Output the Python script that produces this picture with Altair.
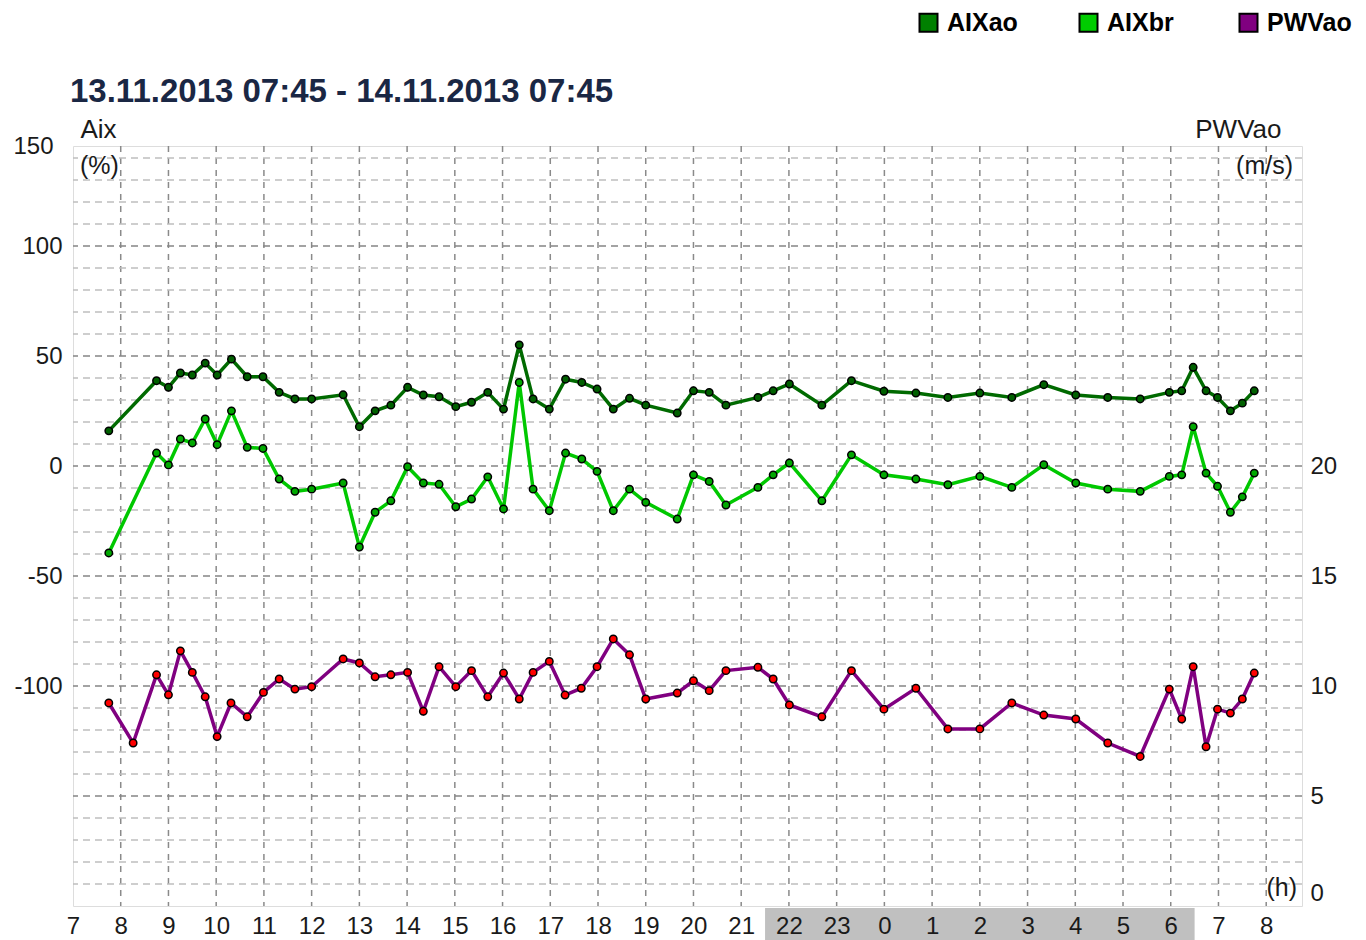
import altair as alt
import pandas as pd

TITLE = "13.11.2013 07:45 - 14.11.2013 07:45"

# time in hours since 13.11 00:00 (values > 24 are on 14.11)
aix_hours = [7.75, 8.75, 9.0, 9.25, 9.5, 9.77, 10.02, 10.32, 10.65, 10.98,
             11.32, 11.65, 12.0, 12.66, 13.0, 13.33, 13.66, 14.01, 14.34, 14.67,
             15.02, 15.35, 15.69, 16.02, 16.35, 16.64, 16.98, 17.32, 17.66, 17.98,
             18.32, 18.66, 19.0, 19.66, 20.0, 20.33, 20.68, 21.35, 21.67, 22.01,
             22.69, 23.31, 23.99, 24.66, 25.33, 26.0, 26.67, 27.34, 28.01, 28.68,
             29.36, 29.97, 30.23, 30.47, 30.74, 30.98, 31.25, 31.5, 31.75]
aixao = [16.0, 38.8, 35.8, 42.3, 41.4, 46.8, 41.4, 48.6, 40.6, 40.6,
         33.5, 30.5, 30.5, 32.4, 17.9, 25.1, 27.7, 35.8, 32.3, 31.5,
         27.0, 29.0, 33.5, 25.9, 55.1, 30.5, 25.9, 39.5, 38.0, 35.0,
         25.9, 30.8, 27.7, 24.1, 34.2, 33.5, 27.7, 31.2, 34.2, 37.3,
         27.7, 38.8, 34.0, 33.2, 31.2, 33.2, 31.2, 37.0, 32.3, 31.2,
         30.5, 33.5, 34.2, 44.9, 34.2, 31.2, 25.1, 28.6, 34.2]
aixbr = [-39.5, 5.9, 0.5, 12.3, 10.5, 21.4, 9.7, 25.1, 8.5, 8.0,
         -5.9, -11.5, -10.5, -7.7, -36.8, -21.0, -15.8, -0.3, -7.7, -8.3,
         -18.5, -15.0, -4.9, -19.5, 38.0, -10.5, -20.3, 5.9, 3.2, -2.4,
         -20.3, -10.5, -16.5, -24.1, -4.0, -7.0, -17.7, -9.7, -4.0, 1.4,
         -15.8, 5.1, -4.0, -5.9, -8.5, -4.7, -9.7, 0.6, -7.7, -10.5,
         -11.5, -4.7, -4.0, 17.9, -3.2, -9.2, -21.0, -14.0, -3.2]

pwv_hours = [7.75, 8.26, 8.75, 9.0, 9.25, 9.5, 9.77, 10.02, 10.31, 10.65,
             10.99, 11.32, 11.65, 12.0, 12.66, 13.0, 13.33, 13.66, 14.01, 14.34,
             14.67, 15.02, 15.35, 15.69, 16.02, 16.35, 16.64, 16.98, 17.31, 17.65,
             17.98, 18.32, 18.66, 19.0, 19.66, 20.0, 20.33, 20.68, 21.35, 21.67,
             22.01, 22.69, 23.31, 23.99, 24.66, 25.33, 26.0, 26.67, 27.34, 28.01,
             28.68, 29.36, 29.97, 30.23, 30.47, 30.74, 30.98, 31.25, 31.5, 31.75]
pwvao = [9.23, 7.41, 10.51, 9.60, 11.60, 10.62, 9.51, 7.70, 9.23, 8.60,
         9.71, 10.32, 9.86, 9.97, 11.23, 11.05, 10.42, 10.51, 10.62, 8.85,
         10.88, 9.97, 10.70, 9.51, 10.59, 9.41, 10.62, 11.12, 9.59, 9.90,
         10.88, 12.14, 11.42, 9.41, 9.68, 10.24, 9.79, 10.70, 10.85, 10.32,
         9.14, 8.60, 10.70, 8.95, 9.90, 8.05, 8.05, 9.23, 8.68, 8.50,
         7.41, 6.80, 9.86, 8.50, 10.88, 7.24, 8.95, 8.77, 9.41, 10.59]

series_names = ["AIXao", "AIXbr", "PWVao"]
legend_colors = ["#008000", "#00cc00", "#800080"]

hour_ticks = list(range(7, 33))
grid_hours = list(range(8, 33))
aix_grid = list(range(-190, 150, 10))
aix_label_values = aix_grid + [145.5]
pwv_ticks = [0, 5, 10, 15, 20]
night = {"start": [21.5], "end": [30.5]}

FONT = "Liberation Sans"
TXT = "#1a1a1a"

x_scale = alt.Scale(domain=[7, 32.75], nice=False, zero=False)
aix_scale = alt.Scale(domain=[-200, 145.5], nice=False, zero=False)
pwv_scale = alt.Scale(domain=[0, 34.55], nice=False, zero=False)

x_axis = alt.Axis(values=hour_ticks, labelExpr="'' + (datum.value % 24)",
                  grid=False, ticks=False, domain=False, labelFontSize=24,
                  labelPadding=8, labelColor=TXT, labelFont=FONT, title=None,
                  labelFlush=False, labelOverlap=False, zindex=2)

left_axis = alt.Axis(values=aix_label_values,
                     labelExpr="datum.value > 145 ? '150' : ((datum.value % 50 == 0 && datum.value >= -100) ? ('' + datum.value) : '')",
                     grid=False, ticks=False, domain=False, labelFontSize=24,
                     labelPadding={"condition": {"test": "datum.value > 145", "value": 20}, "value": 11},
                     labelColor=TXT, labelFont=FONT, labelOverlap=False,
                     title="Aix", titleAngle=0, titleAlign="left", titleX=7, titleY=-9,
                     titleBaseline="alphabetic", titleFontWeight="normal",
                     titleFontSize=26, titleFont=FONT, titleColor=TXT, zindex=2)

right_axis = alt.Axis(orient="right", values=pwv_ticks, grid=False, ticks=False,
                      domain=False, labelFontSize=24, labelPadding=8,
                      labelColor=TXT, labelFont=FONT,
                      labelOffset={"condition": {"test": "datum.value == 0", "value": -13}, "value": 0},
                      title="PWVao", titleAngle=0, titleAlign="right", titleX=-21,
                      titleY=-9, titleBaseline="alphabetic", titleFontWeight="normal",
                      titleFontSize=26, titleFont=FONT, titleColor=TXT, zindex=2)

aix_df = pd.DataFrame({"hour": aix_hours, "AIXao": aixao, "AIXbr": aixbr})
pwv_df = pd.DataFrame({"hour": pwv_hours, "PWVao": pwvao})
hgrid_df = pd.DataFrame({"v": aix_grid})
vgrid_df = pd.DataFrame({"hour": grid_hours})
band_df = pd.DataFrame(night)
legend_df = pd.DataFrame({"series": series_names})

X = alt.X("hour:Q", scale=x_scale, axis=x_axis)

hgrid = alt.Chart(hgrid_df).mark_rule(strokeDash=[7, 5], strokeWidth=1.5).encode(
    y=alt.Y("v:Q", scale=aix_scale, axis=left_axis),
    color=alt.condition("datum.v % 50 == 0", alt.value("#858585"), alt.value("#bebebe")),
)
vgrid = alt.Chart(vgrid_df).mark_rule(strokeDash=[6, 6], strokeWidth=1.5, color="#8a8a8a").encode(x=X)
band = alt.Chart(band_df).mark_rect(color="#c0c0c0").encode(
    x=alt.X("start:Q", scale=x_scale, axis=x_axis), x2="end:Q",
    y=alt.value(762), y2=alt.value(800))


def aix_series(col, line_color, fill_color):
    base = alt.Chart(aix_df).encode(x=X, y=alt.Y(f"{col}:Q", scale=aix_scale, axis=left_axis))
    return [base.mark_line(color=line_color, strokeWidth=3.5),
            base.mark_circle(size=55, fill=fill_color, stroke="black", strokeWidth=1.5, opacity=1)]


aix_group = alt.layer(hgrid, *aix_series("AIXao", "#006a00", "#006000"),
                      *aix_series("AIXbr", "#00c800", "#00a800"))

pwv_base = alt.Chart(pwv_df).encode(x=X, y=alt.Y("PWVao:Q", scale=pwv_scale, axis=right_axis))
pwv_group = alt.layer(pwv_base.mark_line(color="#800080", strokeWidth=3.5),
                      pwv_base.mark_circle(size=55, fill="#ff0000", stroke="black",
                                           strokeWidth=1.5, opacity=1))


def label(text, x, y, align, size=25, weight="normal", color=TXT, baseline="middle"):
    return alt.Chart(pd.DataFrame({"t": [text]})).mark_text(
        fontSize=size, font=FONT, color=color, baseline=baseline, align=align,
        fontWeight=weight).encode(text="t:N", x=alt.value(x), y=alt.value(y))


t_title = label(TITLE, -3, -44, "left", size=33, weight="bold", color="#1a2744",
                baseline="alphabetic")
t_pct = label("(%)", 7, 20, "left")
t_ms = label("(m/s)", 1220, 20, "right")
t_h = label("(h)", 1224, 742, "right")

legend_layer = alt.Chart(legend_df).mark_square(opacity=0).encode(
    fill=alt.Fill("series:N", scale=alt.Scale(domain=series_names, range=legend_colors),
                  legend=alt.Legend(orient="none", legendX=843, legendY=-136,
                                    direction="horizontal", title=None,
                                    symbolType="square", symbolSize=324,
                                    symbolStrokeColor="black", symbolStrokeWidth=2,
                                    symbolOpacity=1, labelFontSize=25,
                                    labelFontWeight="bold", labelFont=FONT,
                                    labelColor="black", labelOffset=6,
                                    columnPadding=43, gridAlign="all")),
    x=alt.value(0), y=alt.value(0))

chart = alt.layer(band, vgrid, aix_group, pwv_group, t_title, t_pct, t_ms, t_h,
                  legend_layer).resolve_scale(
    y="independent"
).properties(
    width=1229, height=760,
    autosize=alt.AutoSizeParams(type="none"),
    padding={"left": 65, "top": 138, "right": 56, "bottom": 34},
).configure_view(stroke="#202020", strokeWidth=2).configure(background="white")

chart.save("out.html", embed_options={"renderer": "svg", "actions": False})
